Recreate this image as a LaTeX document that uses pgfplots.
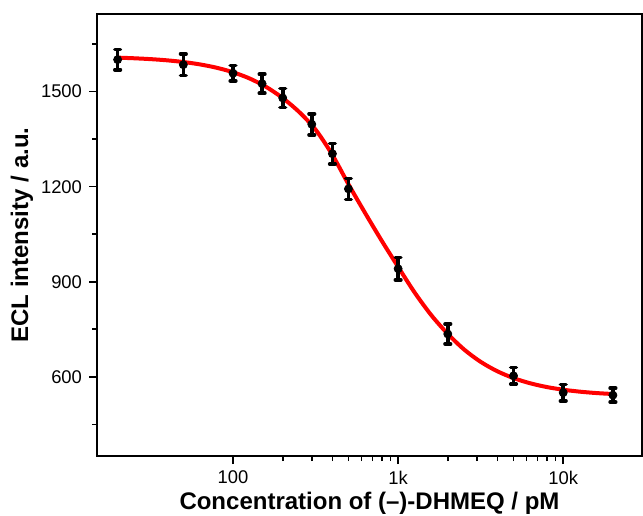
\documentclass[border=0pt]{standalone}
\usepackage{fontspec}
\setmainfont{Liberation Sans}
\usepackage{pgfplots}
\pgfplotsset{compat=1.18}

\begin{document}
\begin{tikzpicture}
\path[use as bounding box] (-48.5pt,-29.5pt) rectangle (273pt,228pt);
\begin{axis}[
    scale only axis,
    width=272.5pt, height=221pt,
    xmode=log,
    xmin=15, xmax=30000,
    ymin=350, ymax=1745,
    xtick={100,1000,10000},
    xticklabels={100,1k,10k},
    ytick={600,900,1200,1500},
    minor ytick={450,750,1050,1350,1650},
    tick pos=left,
    tick align=outside,
    major tick length=4pt,
    minor tick length=2.5pt,
    every tick/.style={black, line width=0.8pt},
    axis line style={line width=1pt},
    /pgf/number format/assume math mode=true,
    /pgf/number format/1000 sep={},
    ticklabel style={font=\fontsize{9.2}{10}\selectfont},
    xlabel={\textbf{Concentration of (–)-DHMEQ / pM}},
    ylabel={\textbf{ECL intensity / a.u.}},
    label style={font=\fontsize{12}{14}\selectfont},
    xlabel style={at={(axis description cs:0.5,-0.106)}, anchor=center},
    ylabel style={at={(axis description cs:-0.1376,0.5)}, anchor=center},
]
% fitted curve
\addplot[red, line width=2pt, smooth] coordinates {
    (20,1607.3) (25.12,1605.3) (31.62,1602.6) (39.81,1598.8) (50.12,1593.4)
    (63.10,1585.9) (79.43,1575.5) (100,1561.2) (125.9,1541.6) (158.5,1515.1)
    (199.5,1480.1) (251.2,1436) (316.2,1380) (398.1,1302) (501.2,1207)
    (631.0,1117) (794.3,1030) (1000,947) (1259,866) (1585,795)
    (1995,735.9) (2512,686.0) (3162,647.2) (3981,617.7) (5012,595.7)
    (6310,579.5) (7943,567.7) (10000,559.2) (12589,553.1) (15849,548.7)
    (20000,545.6)
};
% measured points with error bars
\addplot[only marks, black, mark=*, mark size=2pt,
    error bars/.cd, y dir=both, y explicit,
    error bar style={line width=1.8pt, black},
    error mark=-,
    error mark options={rotate=90, black, line width=1.8pt, mark size=1.4pt, line cap=round}]
coordinates {
    (20,1601) +- (0,32)
    (50,1585) +- (0,34)
    (100,1558) +- (0,24)
    (150,1525) +- (0,30)
    (200,1480) +- (0,30)
    (300,1397) +- (0,33)
    (400,1304) +- (0,32)
    (500,1193) +- (0,33)
    (1000,941) +- (0,35)
    (2000,735) +- (0,31)
    (5000,603) +- (0,26)
    (10000,550) +- (0,26)
    (20000,542) +- (0,22)
};
\end{axis}
\end{tikzpicture}
\end{document}
